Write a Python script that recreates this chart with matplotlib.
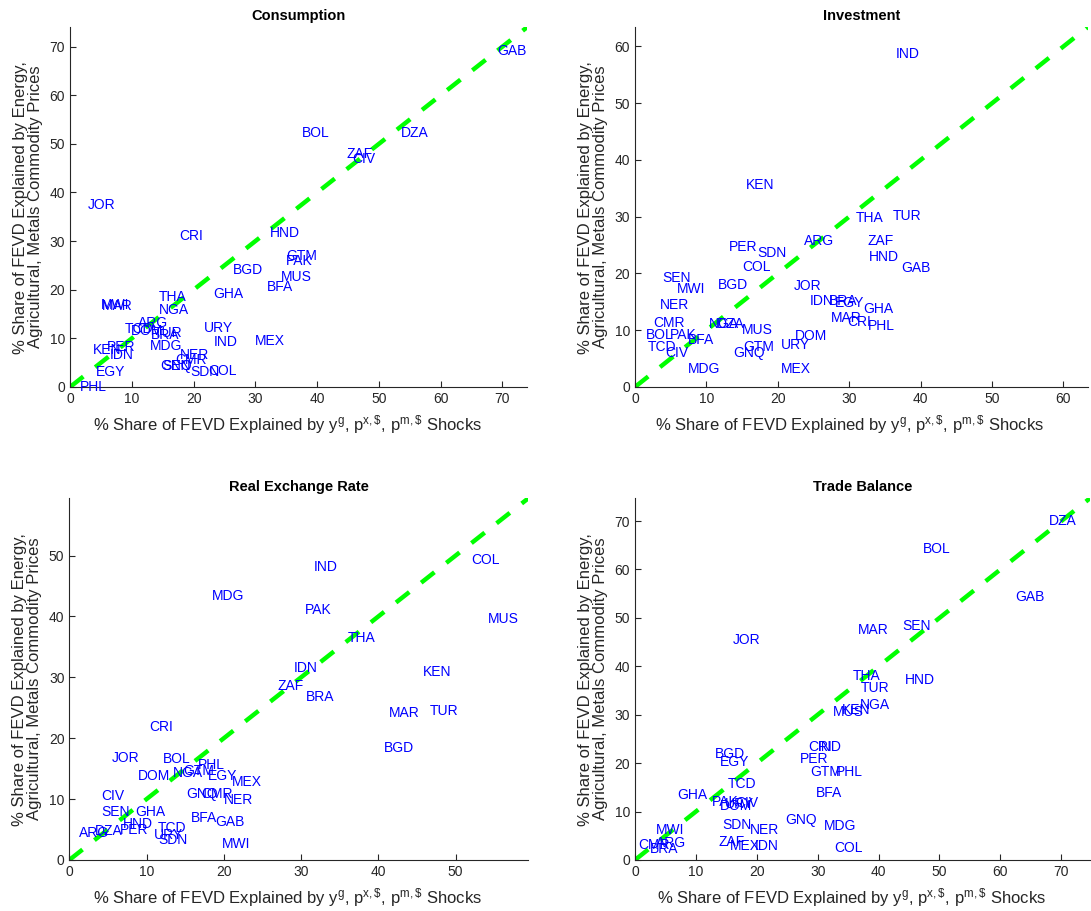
import matplotlib
matplotlib.use('Agg')
import matplotlib.pyplot as plt

plt.rcParams['font.family'] = ['Liberation Sans', 'DejaVu Sans']
plt.rcParams['mathtext.default'] = 'regular'

# Consumption
cons_names = ['GAB', 'BOL', 'DZA', 'ZAF', 'CIV', 'JOR', 'CRI', 'HND', 'GTM', 'PAK',
              'BGD', 'MUS', 'BFA', 'GHA', 'THA', 'MWI', 'MAR', 'NGA', 'ARG', 'TCD',
              'DOM', 'BRA', 'TUR', 'URY', 'IND', 'MEX', 'MDG', 'PER', 'KEN', 'IDN',
              'NER', 'CMR', 'GNQ', 'SEN', 'SDN', 'COL', 'EGY', 'PHL']
cons_x = [69.2, 37.6, 53.5, 44.7, 45.7, 2.8, 17.7, 32.4, 35.0, 35.0,
          26.3, 34.2, 31.8, 23.2, 14.3, 5.0, 5.2, 14.3, 11.0, 8.8,
          9.9, 13.1, 13.6, 21.6, 23.3, 30.0, 13.0, 6.0, 3.7, 6.5,
          17.8, 17.0, 14.6, 14.9, 19.4, 22.4, 4.2, 1.6]
cons_y = [69.1, 52.2, 52.2, 47.9, 46.9, 37.4, 31.0, 31.7, 26.9, 25.9,
          24.0, 22.6, 20.6, 19.1, 18.5, 16.9, 16.6, 15.8, 13.2, 11.9,
          11.5, 10.7, 11.1, 12.1, 9.2, 9.5, 8.4, 8.2, 7.6, 6.6,
          6.6, 5.5, 4.3, 4.3, 3.1, 3.3, 3.1, 0.0]

# Investment
inv_names = ['IND', 'KEN', 'THA', 'TUR', 'ZAF', 'ARG', 'PER', 'SDN', 'HND', 'GAB',
             'COL', 'SEN', 'MWI', 'BGD', 'JOR', 'NER', 'IDN', 'BRA', 'EGY', 'GHA',
             'MAR', 'CRI', 'PHL', 'CMR', 'BOL', 'PAK', 'NGA', 'DZA', 'BFA', 'MUS',
             'TCD', 'CIV', 'GTM', 'GNQ', 'DOM', 'URY', 'MDG', 'MEX']
inv_x = [36.5, 15.5, 30.9, 36.1, 32.6, 23.6, 13.1, 17.2, 32.7, 37.3,
         15.0, 3.8, 5.9, 11.6, 22.2, 3.5, 24.5, 27.1, 28.0, 32.0,
         27.4, 29.7, 32.6, 2.5, 1.5, 4.9, 10.3, 11.5, 7.4, 15.0,
         1.8, 4.2, 15.1, 13.8, 22.4, 20.4, 7.4, 20.4]
inv_y = [58.6, 35.6, 29.8, 30.2, 25.7, 25.7, 24.7, 23.6, 22.9, 21.0,
         21.2, 19.2, 17.3, 18.0, 17.8, 14.5, 15.2, 15.2, 14.8, 13.8,
         12.2, 11.5, 10.8, 11.3, 9.2, 9.2, 11.1, 11.1, 8.3, 10.1,
         7.1, 6.0, 7.1, 6.0, 8.9, 7.4, 3.1, 3.2]

# Real exchange rate
rer_names = ['IND', 'COL', 'MDG', 'PAK', 'MUS', 'THA', 'IDN', 'KEN', 'ZAF', 'BRA',
             'MAR', 'TUR', 'CRI', 'BGD', 'JOR', 'BOL', 'PHL', 'DOM', 'NGA', 'GTM',
             'EGY', 'MEX', 'CIV', 'GNQ', 'CMR', 'NER', 'SEN', 'GHA', 'BFA', 'GAB',
             'HND', 'DZA', 'PER', 'ARG', 'TCD', 'URY', 'SDN', 'MWI']
rer_x = [31.7, 52.0, 18.4, 30.5, 54.2, 36.1, 29.0, 45.8, 27.0, 30.6,
         41.4, 46.7, 10.3, 40.7, 5.5, 12.1, 16.7, 8.9, 13.4, 14.8,
         17.9, 21.0, 4.2, 15.2, 17.1, 20.0, 4.2, 8.5, 15.8, 18.9,
         7.0, 3.3, 6.6, 1.2, 11.5, 11.0, 11.5, 19.7]
rer_y = [48.2, 49.2, 43.4, 41.0, 39.6, 36.5, 31.6, 30.9, 28.5, 26.8,
         24.2, 24.5, 21.9, 18.4, 16.7, 16.6, 15.6, 13.8, 14.3, 14.6,
         13.8, 12.8, 10.5, 10.8, 10.8, 9.9, 7.8, 7.8, 6.9, 6.3,
         5.9, 4.8, 5.0, 4.4, 5.2, 4.1, 3.3, 2.6]

# Trade balance
tb_names = ['DZA', 'BOL', 'GAB', 'JOR', 'MAR', 'SEN', 'THA', 'HND', 'TUR', 'NGA',
            'MUS', 'KEN', 'CRI', 'IND', 'BGD', 'EGY', 'PER', 'GTM', 'PHL', 'TCD',
            'BFA', 'GHA', 'PAK', 'DOM', 'URY', 'CIV', 'SDN', 'NER', 'GNQ', 'MDG',
            'MWI', 'CMR', 'ARG', 'BRA', 'ZAF', 'MEX', 'IDN', 'COL']
tb_x = [68.0, 47.2, 62.5, 16.1, 36.6, 43.9, 35.7, 44.4, 37.0, 36.9,
        32.5, 33.9, 28.4, 30.0, 13.1, 13.9, 27.0, 28.7, 33.0, 15.2,
        29.7, 7.0, 12.6, 13.9, 14.8, 16.4, 14.3, 18.9, 24.6, 31.1,
        3.4, 0.5, 3.4, 2.5, 13.7, 15.6, 19.7, 32.8]
tb_y = [70.1, 64.2, 54.3, 45.5, 47.4, 48.4, 38.0, 37.2, 35.6, 32.0,
        30.6, 31.0, 23.3, 23.3, 21.8, 20.2, 20.8, 18.1, 18.1, 15.6,
        13.9, 13.5, 11.9, 11.1, 11.5, 11.8, 7.3, 6.2, 8.3, 7.1,
        6.2, 3.1, 3.6, 2.2, 3.8, 2.9, 2.9, 2.4]

xlabel_txt = r'% Share of FEVD Explained by y$^{g}$, p$^{x,\$}$, p$^{m,\$}$ Shocks'
ylabel_txt = '% Share of FEVD Explained by Energy,\nAgricultural, Metals Commodity Prices'

axis_color = (0.15, 0.15, 0.15)


def draw_panel(ax, names, xs, ys, lim, title):
    ax.set_xlim(0, lim)
    ax.set_ylim(0, lim)
    ax.plot([0, lim], [0, lim], color=(0, 1, 0), lw=3.2,
            linestyle=(0, (3.8, 3.4)), solid_capstyle='butt', zorder=1)
    for name, x, y in zip(names, xs, ys):
        ax.text(x, y, name, color='blue', fontsize=10, ha='left', va='center',
                clip_on=False, zorder=3)
    ax.spines['top'].set_visible(False)
    ax.spines['right'].set_visible(False)
    for s in ['left', 'bottom']:
        ax.spines[s].set_color(axis_color)
        ax.spines[s].set_linewidth(0.8)
    ax.tick_params(direction='in', length=4, width=0.8, colors=axis_color,
                   labelsize=10, labelcolor=axis_color)
    ax.set_title(title, fontsize=10.5, fontweight='bold', pad=5)
    ax.set_xlabel(xlabel_txt, fontsize=12, color=axis_color)
    ax.xaxis.set_label_coords(0.475, -0.072)
    ax.set_ylabel(ylabel_txt, fontsize=12, color=axis_color, labelpad=5,
                  linespacing=0.95)


fig = plt.figure(figsize=(10.91, 9.11), dpi=100)
ax1 = fig.add_axes([0.0642, 0.5752, 0.419, 0.395])
ax2 = fig.add_axes([0.582, 0.5752, 0.415, 0.395])
ax3 = fig.add_axes([0.0635, 0.056, 0.4207, 0.397])
ax4 = fig.add_axes([0.582, 0.056, 0.417, 0.397])

draw_panel(ax1, cons_names, cons_x, cons_y, 74.0, 'Consumption')
draw_panel(ax2, inv_names, inv_x, inv_y, 63.4, 'Investment')
draw_panel(ax3, rer_names, rer_x, rer_y, 59.4, 'Real Exchange Rate')
draw_panel(ax4, tb_names, tb_x, tb_y, 74.7, 'Trade Balance')

fig.savefig('out.png', dpi=100)
